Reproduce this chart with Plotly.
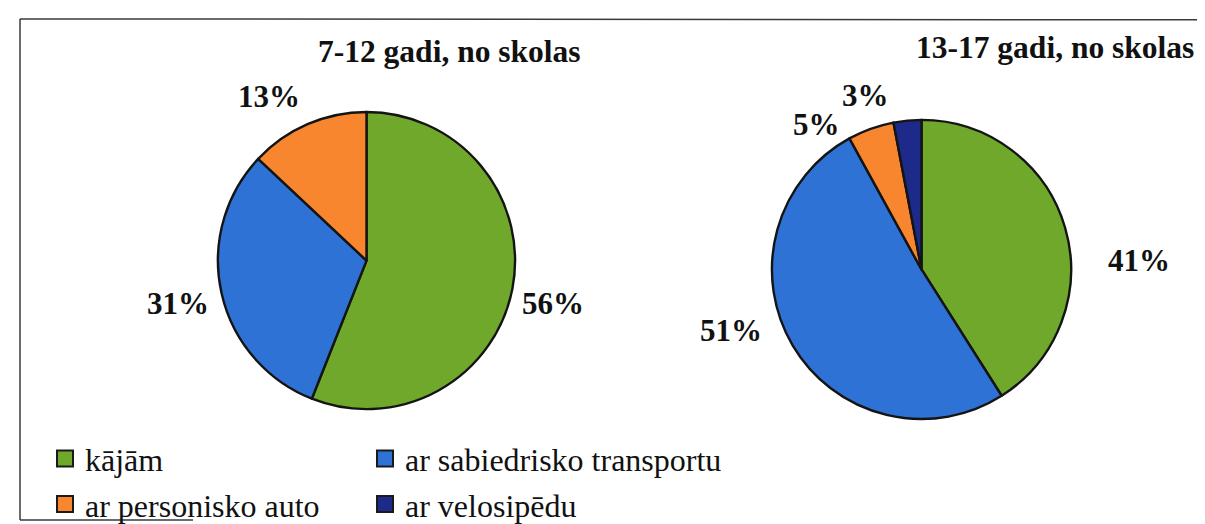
import plotly.graph_objects as go

# ---------------- data ----------------
categories = ["kājām", "ar sabiedrisko transportu", "ar personisko auto", "ar velosipēdu"]
title_left = "7-12 gadi, no skolas"
title_right = "13-17 gadi, no skolas"
labels_7_12 = ["kājām", "ar sabiedrisko transportu", "ar personisko auto"]
values_7_12 = [56, 31, 13]
labels_13_17 = ["kājām", "ar sabiedrisko transportu", "ar personisko auto", "ar velosipēdu"]
values_13_17 = [41, 51, 5, 3]

# ---------------- style ----------------
W, H = 1205, 524
colors = {
    "kājām": "#6fa82b",
    "ar sabiedrisko transportu": "#2f72d6",
    "ar personisko auto": "#f7862f",
    "ar velosipēdu": "#1e2a8a",
}
FONT = "'Times New Roman', 'Liberation Serif', 'DejaVu Serif', serif"
EDGE = "#141414"

def px(x, y):
    return x / W, 1 - y / H

# pie placement (pixel centre and radius)
left_c, left_r = (358.5, 255), 150
right_c, right_r = (913.5, 264), 151

def domain(c, r):
    x0, y0 = px(c[0] - r, c[1] + r)
    x1, y1 = px(c[0] + r, c[1] - r)
    return dict(x=[x0, x1], y=[y0, y1])

# pixel anchor points of the percentage labels (layout only)
label_pos_left = [(545, 298), (170, 298), (261, 89)]
label_pos_right = [(1131, 255), (723, 326), (809, 118), (857, 88)]

fig = go.Figure()

fig.add_trace(go.Pie(
    labels=labels_7_12, values=values_7_12,
    marker=dict(colors=[colors[l] for l in labels_7_12], line=dict(color=EDGE, width=2.4)),
    sort=False, direction="clockwise", rotation=0,
    textinfo="none", showlegend=False,
    domain=domain(left_c, left_r),
))
fig.add_trace(go.Pie(
    labels=labels_13_17, values=values_13_17,
    marker=dict(colors=[colors[l] for l in labels_13_17], line=dict(color=EDGE, width=2.4)),
    sort=False, direction="clockwise", rotation=0,
    textinfo="none", showlegend=False,
    domain=domain(right_c, right_r),
))

# legend entries (legend-only traces)
entry_widths = [275, 350, 275, 350]
for i, cat in enumerate(categories):
    fig.add_trace(go.Scatter(
        x=[None], y=[None], mode="markers", name=cat,
        marker=dict(symbol="square", size=16, color=colors[cat],
                    line=dict(color="#1a1a1a", width=2)),
        legend="legend" if i < 2 else "legend2",
        legendwidth=entry_widths[i],
        hoverinfo="skip",
    ))

annotations = []
for vals, poss in ((values_7_12, label_pos_left), (values_13_17, label_pos_right)):
    for v, (x, y) in zip(vals, poss):
        ax, ay = px(x, y)
        annotations.append(dict(
            x=ax, y=ay, xref="paper", yref="paper", text=f"<b>{v}%</b>",
            showarrow=False, xanchor="center", yanchor="middle",
            font=dict(family=FONT, size=31, color="#111111"),
        ))

for t, (x, y) in ((title_left, (441, 44)), (title_right, (1047, 40))):
    ax, ay = px(x, y)
    annotations.append(dict(
        x=ax, y=ay, xref="paper", yref="paper", text=f"<b>{t}</b>",
        showarrow=False, xanchor="center", yanchor="middle",
        font=dict(family=FONT, size=31.5, color="#111111"),
    ))

shapes = []
for (x0, y0, x1, y1) in ((12, 11, 1202, 12), (12, 11, 12, 517), (12, 517, 185, 517)):
    a0, b0 = px(x0, y0)
    a1, b1 = px(x1, y1)
    shapes.append(dict(type="line", xref="paper", yref="paper", x0=a0, y0=b0, x1=a1, y1=b1,
                       line=dict(color="#3a3a3a", width=1.5)))

legend_common = dict(
    orientation="h", xanchor="left", yanchor="middle",
    entrywidthmode="pixels",
    font=dict(family=FONT, size=32, color="#111111"),
    bgcolor="rgba(0,0,0,0)", borderwidth=0, itemclick=False, itemdoubleclick=False,
)

fig.update_layout(
    width=W, height=H,
    margin=dict(l=0, r=0, t=0, b=0),
    paper_bgcolor="white", plot_bgcolor="white",
    xaxis=dict(visible=False), yaxis=dict(visible=False),
    annotations=annotations, shapes=shapes,
    legend=dict(x=px(37, 0)[0], y=px(0, 455)[1], **legend_common),
    legend2=dict(x=px(37, 0)[0], y=px(0, 501)[1], **legend_common),
    font=dict(family=FONT),
)

fig.write_html("out.html")
